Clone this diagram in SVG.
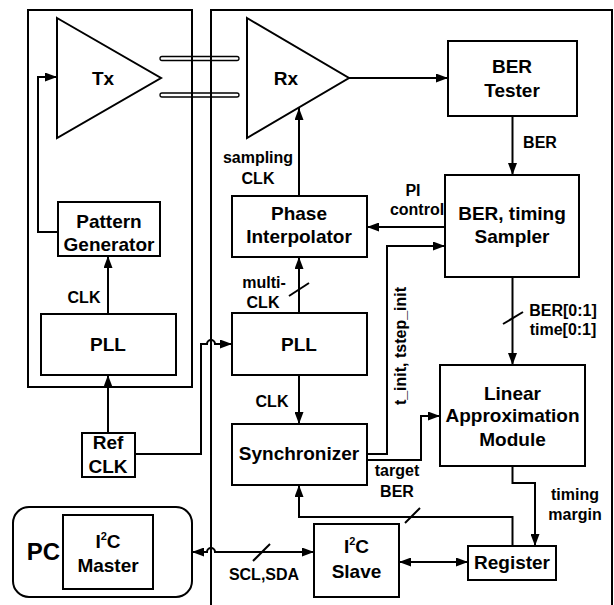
<svg xmlns="http://www.w3.org/2000/svg" width="614" height="605" viewBox="0 0 614 605">
<style>
rect, polygon { fill: none; stroke: #000; stroke-width: 2; }
.c path { fill: none; stroke: #000; stroke-width: 2; }
.c path.a { marker-end: url(#ah); }
.c path.b { marker-start: url(#ah); marker-end: url(#ah); }
text { font-family: "Liberation Sans", Arial, sans-serif; font-weight: bold; fill: #000; text-anchor: middle; }
.n { font-size: 19px; }
.l { font-size: 16px; }
.tube { stroke-width: 1.3; }
</style>
<defs>
<marker id="ah" viewBox="0 0 12 9" refX="12" refY="4.5" markerWidth="12" markerHeight="9" markerUnits="userSpaceOnUse" orient="auto-start-reverse">
<path d="M0,0 L12,4.5 L0,9 z" fill="#000"/>
</marker>
</defs>
<rect fill="#fff" stroke="none" x="0" y="0" width="614" height="605" style="fill:#fff;stroke:none"/>

<g id="tx-chip"><rect x="28" y="10" width="164" height="377"/></g>
<g id="rx-chip"><rect x="211" y="10" width="401" height="620"/></g>

<g id="channel">
<rect class="tube" x="160" y="56.5" width="79" height="4" rx="2"/>
<rect class="tube" x="160" y="93" width="79" height="4" rx="2"/>
</g>

<g id="tx"><polygon points="57,18 161,78 57,138"/><text class="n" x="103" y="85">Tx</text></g>
<g id="pattern-gen"><rect x="58" y="202" width="102" height="54"/><text class="n" x="109" y="227.5">Pattern</text><text class="n" x="109" y="251">Generator</text></g>
<g id="pll-tx"><rect x="41" y="314" width="135" height="61"/><text class="n" x="108" y="351">PLL</text></g>
<g id="ref-clk"><rect x="82" y="433" width="53" height="44"/><text class="n" x="108" y="449">Ref</text><text class="n" x="108" y="473">CLK</text></g>
<g id="pc"><rect x="13" y="507" width="179" height="90" rx="16"/><text x="43.5" y="560" style="font-size:24px">PC</text></g>
<g id="i2c-master"><rect x="63" y="515" width="90" height="74"/><text class="n" x="108" y="548">I<tspan style="font-size:11px" dy="-8">2</tspan><tspan dy="8">C</tspan></text><text class="n" x="108" y="572">Master</text></g>

<g id="rx"><polygon points="247,18 349,78 247,138"/><text class="n" x="286" y="85">Rx</text></g>
<g id="ber-tester"><rect x="448" y="41" width="129" height="75"/><text class="n" x="512" y="73">BER</text><text class="n" x="512" y="97">Tester</text></g>
<g id="ber-sampler"><rect x="445" y="175" width="134" height="102"/><text class="n" x="512" y="220">BER, timing</text><text class="n" x="512" y="243">Sampler</text></g>
<g id="phase-interp"><rect x="232" y="196" width="135" height="61"/><text class="n" x="299" y="220">Phase</text><text class="n" x="299" y="243">Interpolator</text></g>
<g id="pll-rx"><rect x="232" y="313" width="135" height="62"/><text class="n" x="299" y="351">PLL</text></g>
<g id="synchronizer"><rect x="232" y="424" width="135" height="61"/><text class="n" x="299" y="460">Synchronizer</text></g>
<g id="linear-approx"><rect x="440" y="365" width="145" height="101"/><text class="n" x="512.5" y="400">Linear</text><text class="n" x="512.5" y="422">Approximation</text><text class="n" x="512.5" y="446">Module</text></g>
<g id="i2c-slave"><rect x="314" y="524" width="85" height="73"/><text class="n" x="356.5" y="553">I<tspan style="font-size:11px" dy="-8">2</tspan><tspan dy="8">C</tspan></text><text class="n" x="356.5" y="578">Slave</text></g>
<g id="register"><rect x="468" y="546" width="88" height="34"/><text class="n" x="512" y="569">Register</text></g>

<g id="connectors" class="c">
<path class="a" d="M58,232 H38 V77 H57"/>
<path class="a" d="M108,314 V256"/>
<path class="a" d="M108,433 V375"/>
<path class="a" d="M135,454 H201 V344 H207 A4,4 0 0 1 215,344 H232"/>
<path class="a" d="M349,78 H448"/>
<path class="a" d="M512.5,116 V175"/>
<path class="a" d="M445,227 H367"/>
<path class="a" d="M299,196 V108"/>
<path class="a" d="M299,313 V257"/>
<path d="M289,296 L309,283"/>
<path class="a" d="M299,375 V424"/>
<path class="a" d="M367,454 H387 V246 H445"/>
<path class="a" d="M367,460 H421 V416 H440"/>
<path class="a" d="M512.5,277 V365"/>
<path d="M503,324 L523,312"/>
<path class="a" d="M512.5,466 V483 H535 V546"/>
<path class="a" d="M512.5,546 V517 H299 V485"/>
<path d="M405,523 L420,508"/>
<path class="b" d="M399,562 H468"/>
<path class="b" d="M192,552 H207 A4,4 0 0 1 215,552 H314"/>
<path d="M253,561 L270,544"/>
</g>

<g id="labels">
<text class="l" x="84" y="303">CLK</text>
<text class="l" x="258" y="163">sampling</text>
<text class="l" x="258" y="184">CLK</text>
<text class="l" x="264" y="288">multi-</text>
<text class="l" x="263" y="308">CLK</text>
<text class="l" x="272" y="407">CLK</text>
<text class="l" x="540" y="148">BER</text>
<text class="l" x="413" y="196">PI</text>
<text class="l" x="417" y="215">control</text>
<text class="l" transform="translate(406,346) rotate(-90)" x="0" y="0">t_init, tstep_init</text>
<text class="l" x="397" y="476">target</text>
<text class="l" x="397" y="497">BER</text>
<text class="l" x="563" y="316">BER[0:1]</text>
<text class="l" x="563" y="335">time[0:1]</text>
<text class="l" x="575" y="500">timing</text>
<text class="l" x="575" y="520">margin</text>
<text class="l" x="264" y="580">SCL,SDA</text>
</g>
</svg>
